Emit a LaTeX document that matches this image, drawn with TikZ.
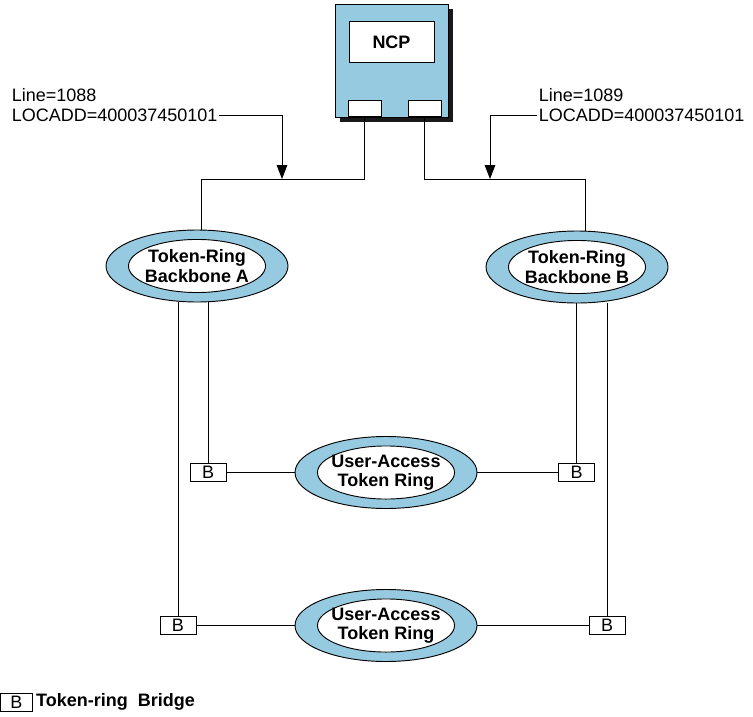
\documentclass[tikz,border=0pt]{standalone}
\usepackage{fontspec}
\setmainfont{Liberation Sans}
\usepackage{tikz}
\usepackage{xcolor}
\usetikzlibrary{shapes.geometric,shadows,arrows.meta,positioning}
\definecolor{ringblue}{RGB}{150,202,224}
\tikzset{
	ring/.style={ellipse, draw, fill=ringblue, minimum width=136.5pt, minimum height=54pt, inner sep=0pt, align=center,
		font=\fontsize{13.5}{14.6}\selectfont\bfseries,
		path picture={\draw[fill=white] (path picture bounding box.center) ellipse [x radius=51.4pt, y radius=19.9pt];}},
	bridge/.style={draw, fill=white, minimum width=27pt, minimum height=14pt, inner sep=0pt, font=\fontsize{13.5}{13.5}\selectfont},
	port/.style={draw, fill=white, minimum width=24.75pt, minimum height=12pt, inner sep=0pt},
	addr/.style={inner sep=1pt, font=\fontsize{13.5}{16}\selectfont},
}

\begin{document}
\begin{tikzpicture}[x=0.75pt, y=-0.75pt, line width=0.7pt, >={Triangle[length=10.5pt,width=8pt]}]
	\useasboundingbox (0,0) rectangle (753,717);
	% NCP box
	\node[draw, fill=ringblue, minimum size=84.75pt, inner sep=0pt,
		drop shadow={shadow xshift=4pt, shadow yshift=-4pt, fill=black!90, opacity=1}] (ncp) at (391.5,60.5) {};
	\node[draw, fill=white, minimum width=63.75pt, minimum height=30.75pt, font=\fontsize{13.5}{16}\selectfont\bfseries] (ncpname) at (391.5,42) {NCP};
	\node[port] (portA) at (364.5,108.5) {};
	\node[port] (portB) at (424.5,108.5) {};
	% rings
	\node[ring] (bbA) at (197,266) {Token-Ring\\Backbone A};
	\node[ring] (bbB) at (577,267) {Token-Ring\\Backbone B};
	\node[ring] (ua1) at (386,472.5) {User-Access\\Token Ring};
	\node[ring] (ua2) at (386,625.5) {User-Access\\Token Ring};
	% bridges
	\node[bridge] (br1) at (208,472.5) {B};
	\node[bridge] (br2) at (576.5,472.5) {B};
	\node[bridge] (br3) at (178,625.5) {B};
	\node[bridge] (br4) at (607,625.5) {B};
	% LOCADD labels
	\node[addr, anchor=base west] (lineA) at (10,102) {Line=1088};
	\node[addr, anchor=base west] (locA) at (10,122) {LOCADD=400037450101};
	\node[addr, anchor=base west] (lineB) at (537,102) {Line=1089};
	\node[addr, anchor=base west] (locB) at (537,122) {LOCADD=400037450101};
	\coordinate (jA) at (201,179); 	\coordinate (jB) at (585,179);
	\coordinate (tipA) at (282,179);	\coordinate (tipB) at (490,179);%arrow ends on the line
	\draw (portA.south) |- (jA) -- (jA |- bbA.north);
	\draw (portB.south) |- (jB) -- (jB |- bbB.north);
	\draw[->] (locA.east) -| (tipA);
	\draw[->] (locB.west) -| (tipB);
	% backbone to bridges
	\draw (br1.north |- bbA.south) -- (br1.north);
	\draw (br3.north |- bbA.south) -- (br3.north);
	\draw (br2.north |- bbB.south) -- (br2.north);
	\draw (br4.north |- bbB.south) -- (br4.north);
	\draw (br1) -- (ua1);
	\draw (ua1) -- (br2);
	\draw (br3) -- (ua2);
	\draw (ua2) -- (br4);
	% legend
	\node[bridge, minimum width=24pt, minimum height=13.5pt] (key) at (16.5,702) {B};
	\node[right=1pt of key, inner sep=1pt, font=\fontsize{13.5}{16}\selectfont\bfseries] (keytext) {Token-ring\ \ Bridge};
\end{tikzpicture}
\end{document}
